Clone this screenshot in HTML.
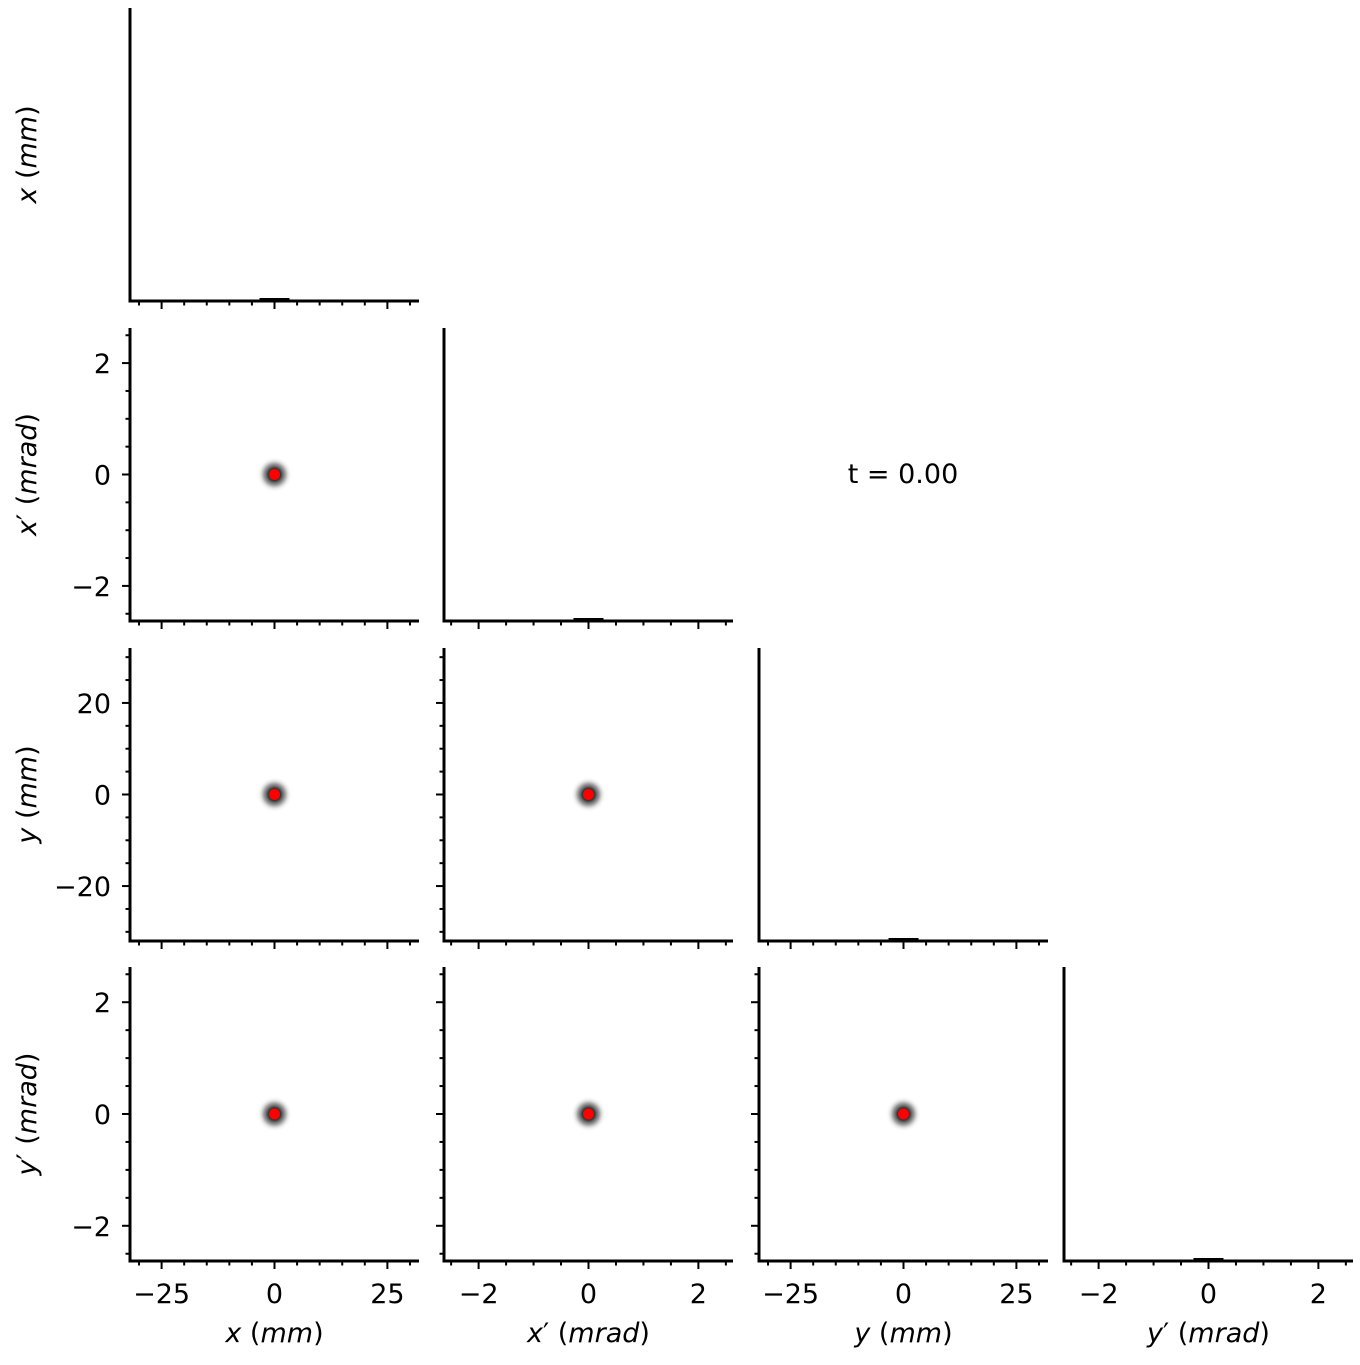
<!DOCTYPE html>
<html><head><meta charset="utf-8"><style>
html,body{margin:0;padding:0;background:#fff;}
svg text{font-family:"DejaVu Sans","Liberation Sans",sans-serif;font-size:27px;fill:#000;}
</style></head><body>
<svg id="s" width="1360" height="1360" xmlns="http://www.w3.org/2000/svg">
<defs>
<radialGradient id="g">
<stop offset="0" stop-color="#000" stop-opacity="1"/>
<stop offset="0.35" stop-color="#222" stop-opacity="0.9"/>
<stop offset="0.6" stop-color="#555" stop-opacity="0.55"/>
<stop offset="0.8" stop-color="#aaa" stop-opacity="0.2"/>
<stop offset="1" stop-color="#fff" stop-opacity="0"/>
</radialGradient>
</defs>
</svg>
<script>
const S=document.getElementById('s');
const NS='http://www.w3.org/2000/svg';
function el(t,a,txt){const e=document.createElementNS(NS,t);for(const k in a)e.setAttribute(k,a[k]);if(txt!==undefined)e.textContent=txt;S.appendChild(e);return e;}
const cols=[[130,419],[444,733],[759,1048],[1064,1353]];
const rows=[[8,301],[328,621],[648,941],[967,1261]];
const mm={lim:32,major:[-25,0,25],minor:5,lab:['\u221225','0','25']};
const mmy={lim:32,major:[-20,0,20],minor:5,lab:['\u221220','0','20']};
const mr={lim:2.63,major:[-2,0,2],minor:0.5,lab:['\u22122','0','2']};
const spec=[mm,mr,mm,mr];
const yspec=[mm,mr,mmy,mr];
const names=[['x','','mm'],['x','\u2032','mrad'],['y','','mm'],['y','\u2032','mrad']];
function xpix(c,v){const [a,b]=cols[c];const s=spec[c];return (a+b)/2+v*(b-a)/(2*s.lim);}
function ypix(r,v){const [a,b]=rows[r];const s=yspec[r];return (a+b)/2-v*(b-a)/(2*s.lim);}
function sp(t,txt,it){const a=document.createElementNS(NS,'tspan');if(it)a.setAttribute('font-style','italic');a.textContent=txt;t.appendChild(a);}
function label(t,r){
 sp(t,names[r][0],true);
 if(names[r][1])sp(t,names[r][1],false);
 sp(t,' (',false);sp(t,names[r][2],true);sp(t,')',false);
}
for(let r=0;r<4;r++){for(let c=0;c<=r;c++){
 const [x0,x1]=cols[c],[y0,y1]=rows[r];
 const sx=spec[c];
 for(let v=-Math.floor(sx.lim/sx.minor)*sx.minor;v<=sx.lim+1e-9;v+=sx.minor){
  const px=xpix(c,v);if(px<x0||px>x1)continue;
  const maj=sx.major.some(m=>Math.abs(m-v)<1e-9);
  el('line',{x1:px,x2:px,y1:y1,y2:y1+(maj?8:4.5),stroke:'#000','stroke-width':2});
 }
 if(r===3){
  sx.major.forEach((m,i)=>el('text',{x:xpix(c,m),y:1303,'text-anchor':'middle'},sx.lab[i]));
  label(el('text',{x:(x0+x1)/2,y:1342,'text-anchor':'middle'}),c);
 }
 if(r===c){
  const cx=xpix(c,0);
  el('rect',{x:cx-15,y:y1-3,width:30,height:2,fill:'#000'});
 } else {
  const sy=yspec[r];
  for(let v=-Math.floor(sy.lim/sy.minor)*sy.minor;v<=sy.lim+1e-9;v+=sy.minor){
   const py=ypix(r,v);if(py<y0||py>y1)continue;
   const maj=sy.major.some(m=>Math.abs(m-v)<1e-9);
   el('line',{x1:x0,x2:x0-(maj?8:4.5),y1:py,y2:py,stroke:'#000','stroke-width':2});
  }
  if(c===0) sy.major.forEach((m,i)=>el('text',{x:111,y:ypix(r,m)+10,'text-anchor':'end'},sy.lab[i]));
  const cx=xpix(c,0),cy=ypix(r,0);
  el('circle',{cx:cx,cy:cy,r:18,fill:'url(#g)'});
  el('circle',{cx:cx,cy:cy,r:5.5,fill:'#ff0000'});
 }
 el('line',{x1:x0,x2:x0,y1:y0,y2:y1+1.5,stroke:'#000','stroke-width':3});
 el('line',{x1:x0-1.5,x2:x1,y1:y1,y2:y1,stroke:'#000','stroke-width':3});
}
 const cy=(rows[r][0]+rows[r][1])/2;
 label(el('text',{x:0,y:0,'text-anchor':'middle',transform:`translate(36,${cy}) rotate(-90)`}),r);
}
el('text',{x:903,y:483,'text-anchor':'middle'},'t = 0.00');
</script>
</body></html>
